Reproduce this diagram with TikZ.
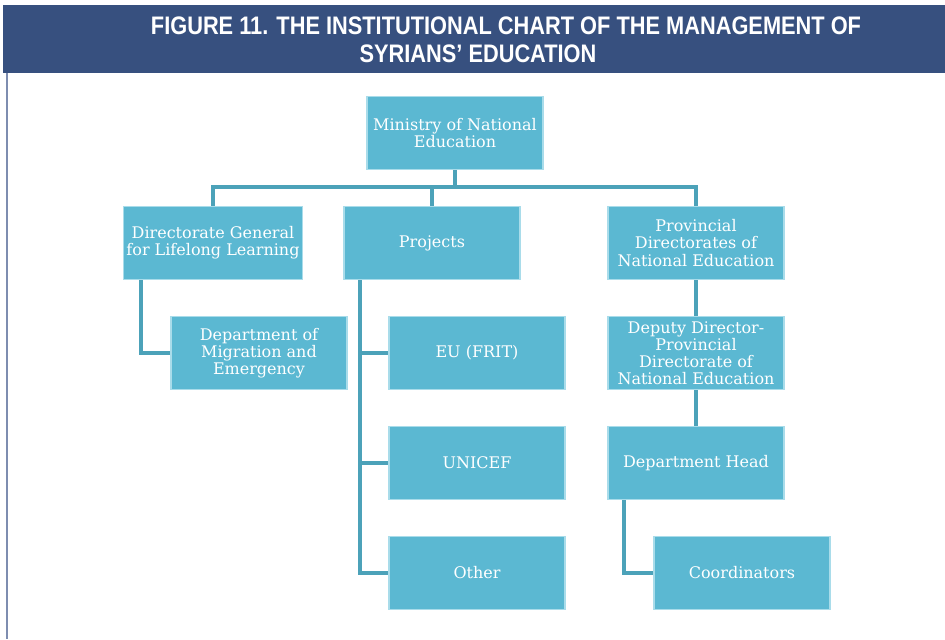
\documentclass[tikz,border=0pt]{standalone}
\usepackage{fontspec}
\setmainfont{DejaVu Serif}
\newfontfamily\titlefont[FakeStretch=0.86]{Liberation Sans}
\usepackage{tikz}

\definecolor{barblue}{HTML}{37507F}
\definecolor{boxblue}{HTML}{5BB8D2}
\definecolor{boxedge}{HTML}{A9DCEA}
\definecolor{linkblue}{HTML}{4CA2B9}
\definecolor{edgegray}{HTML}{7E8DB0}

\begin{document}
\begin{tikzpicture}[
x=0.75pt, y=-0.75pt,
unit/.style = {fill=boxblue, draw=boxedge, line width=0.8pt, text=white,
	minimum width=132pt, minimum height=54.75pt, inner sep=2pt,
	align=center, font=\fontsize{12}{12.8}\selectfont},
link/.style = {draw=linkblue, line width=3.6pt}
]
\useasboundingbox (0,0) rectangle (945,639);
% title bar and frame
\fill[barblue] (3,5) rectangle (945,73);
\draw[edgegray, line width=1.5pt] (7,73) -- (7,639);
\node[text=white, align=center, font=\titlefont\bfseries\fontsize{19}{21}\selectfont] (title) at (506,40)
	{FIGURE 11. THE INSTITUTIONAL CHART OF THE MANAGEMENT OF\\SYRIANS’ EDUCATION\hspace*{42pt}};

% boxes
\node[unit] (min) at (455,133) {Ministry of National\\Education};
\node[unit] (dgl) at (213,243) {Directorate General\\for Lifelong Learning};
\node[unit] (prj) at (432,243) {Projects};
\node[unit] (pde) at (696,243) {Provincial\\Directorates of\\National Education};
\node[unit] (dme) at (259,353) {Department of\\Migration and\\Emergency};
\node[unit] (eu)  at (477,353) {EU (FRIT)};
\node[unit] (dep) at (696,353) {Deputy Director-\\Provincial\\Directorate of\\National Education};
\node[unit] (uni) at (477,463) {UNICEF};
\node[unit] (head) at (696,463) {Department Head};
\node[unit] (oth) at (477,573) {Other};
\node[unit] (crd) at (742,573) {Coordinators};

% connectors
\draw[link] (min.south) -- ++(0,17) coordinate (bus);
\draw[link] (bus) -| (dgl.north);
\draw[link] (bus) -| (prj.north);
\draw[link] (bus) -| (pde.north);

\draw[link] ([xshift=-54pt]dgl.south) |- (dme.west);

\coordinate (prjtop) at ([xshift=-54pt]prj.south);
\draw[link] (prjtop) |- (oth.west);
\draw[link] (prjtop) |- (uni.west);
\draw[link] (prjtop) |- (eu.west);

\draw[link] (pde.south) -- (dep.north);
\draw[link] (dep.south) -- (head.north);
\draw[link] ([xshift=-54pt]head.south) |- (crd.west);
\end{tikzpicture}
\end{document}
